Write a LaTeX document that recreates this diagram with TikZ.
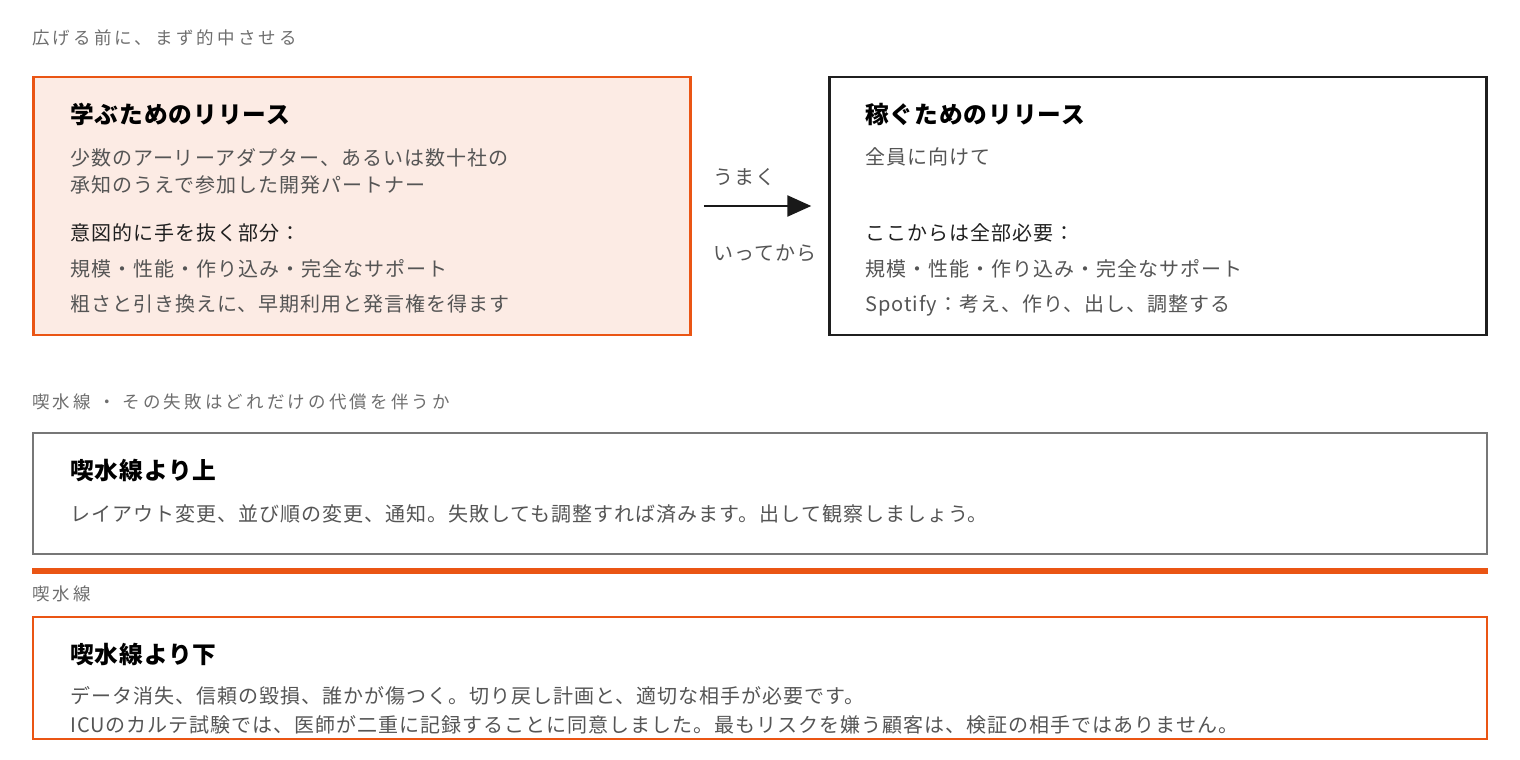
\documentclass[tikz,border=0pt]{standalone}
\usepackage{fontspec}
\setmainfont{Noto Sans CJK JP}
\newfontfamily\labelfont{Noto Sans CJK JP}[LetterSpace=18]
\newfontfamily\bodyfont{Noto Sans CJK JP}[LetterSpace=5]
\newfontfamily\headfont{Noto Sans CJK JP}[LetterSpace=4]
\usetikzlibrary{arrows.meta}

\definecolor{lineorange}{HTML}{EA5514}
\definecolor{learnfill}{HTML}{FCEBE4}
\definecolor{bodygray}{HTML}{555555}
\definecolor{labelgray}{HTML}{6E6E6E}
\definecolor{framegray}{HTML}{777777}

\begin{document}
\begin{tikzpicture}[x=1pt,y=-1pt,
    txt/.style={anchor=west,inner sep=0,text height=0.88em,text depth=0.12em},
    caption/.style={txt,yshift=-4pt,text=labelgray,font=\labelfont\fontsize{17.5}{21}\selectfont},
    head/.style={txt,yshift=-6pt,text=black,font=\headfont\bfseries\fontsize{23.7}{28}\selectfont},
    body/.style={txt,yshift=-5pt,text=bodygray,font=\bodyfont\fontsize{20}{24}\selectfont},
    key/.style={body,text=black!88},
    panel/.style={draw,line width=2.5pt,inner sep=0,minimum width=#1},
    flow/.style={-{Triangle[length=24pt,width=21pt]},line width=2.5pt,black!90}]

  \useasboundingbox (0,0) rectangle (1520,760);

  \node[caption] (cap1) at (32,37) {広げる前に、まず的中させる};

  % the two release boxes
  \node[panel=657,minimum height=258,draw=lineorange,fill=learnfill] (learn) at (362,206) {};
  \node[panel=657,minimum height=258,draw=black!88] (earn) at (1158,206) {};

  \node[head] (learnhead) at (70,114) {学ぶためのリリース};
  \foreach \y/\t in {157/{少数のアーリーアダプター、あるいは数十社の},
                     184/{承知のうえで参加した開発パートナー},
                     268/{規模・性能・作り込み・完全なサポート},
                     303/{粗さと引き換えに、早期利用と発言権を得ます}}
      \node[body] at (70,\y) {\t};
  \node[key] (learnkey) at (70,232) {意図的に手を抜く部分：};

  \node[head] (earnhead) at (865,114) {稼ぐためのリリース};
  \foreach \y/\t in {156/{全員に向けて},
                     268/{規模・性能・作り込み・完全なサポート},
                     303/{Spotify：考え、作り、出し、調整する}}
      \node[body] at (865,\y) {\t};
  \node[key] (earnkey) at (865,232) {ここからは全部必要：};

  \draw[flow,shorten <=12pt,shorten >=17pt] (learn) -- (earn);
    \node[body] (ok) at (713,176) {うまく};
    \node[body] (after) at (713,252) {いってから};

  % waterline
  \node[caption] (cap2) at (32,401) {喫水線 ・ その失敗はどれだけの代償を伴うか};

  \node[panel=1454,minimum height=121,line width=2pt,draw=framegray] (above) at (760,493.5) {};
    \node[head] (abovehead) at (70,470) {喫水線より上};
    \node[body] at (70,513) {レイアウト変更、並び順の変更、通知。失敗しても調整すれば済みます。出して観察しましょう。};

  \coordinate (wl) at (32,571);
  \coordinate (wr) at (1488,571);
  \draw[lineorange,line width=6pt] (wl) -- (wr);
    \node[caption] (cap3) at (32,593) {喫水線};

  \node[panel=1454,minimum height=122,draw=lineorange] (below) at (760,678) {};
    \node[head] (belowhead) at (70,654) {喫水線より下};
    \foreach \y/\t in {695/{データ消失、信頼の毀損、誰かが傷つく。切り戻し計画と、適切な相手が必要です。},
                       724/{ICUのカルテ試験では、医師が二重に記録することに同意しました。最もリスクを嫌う顧客は、検証の相手ではありません。}}
        \node[body] at (70,\y) {\t};

\end{tikzpicture}
\end{document}
